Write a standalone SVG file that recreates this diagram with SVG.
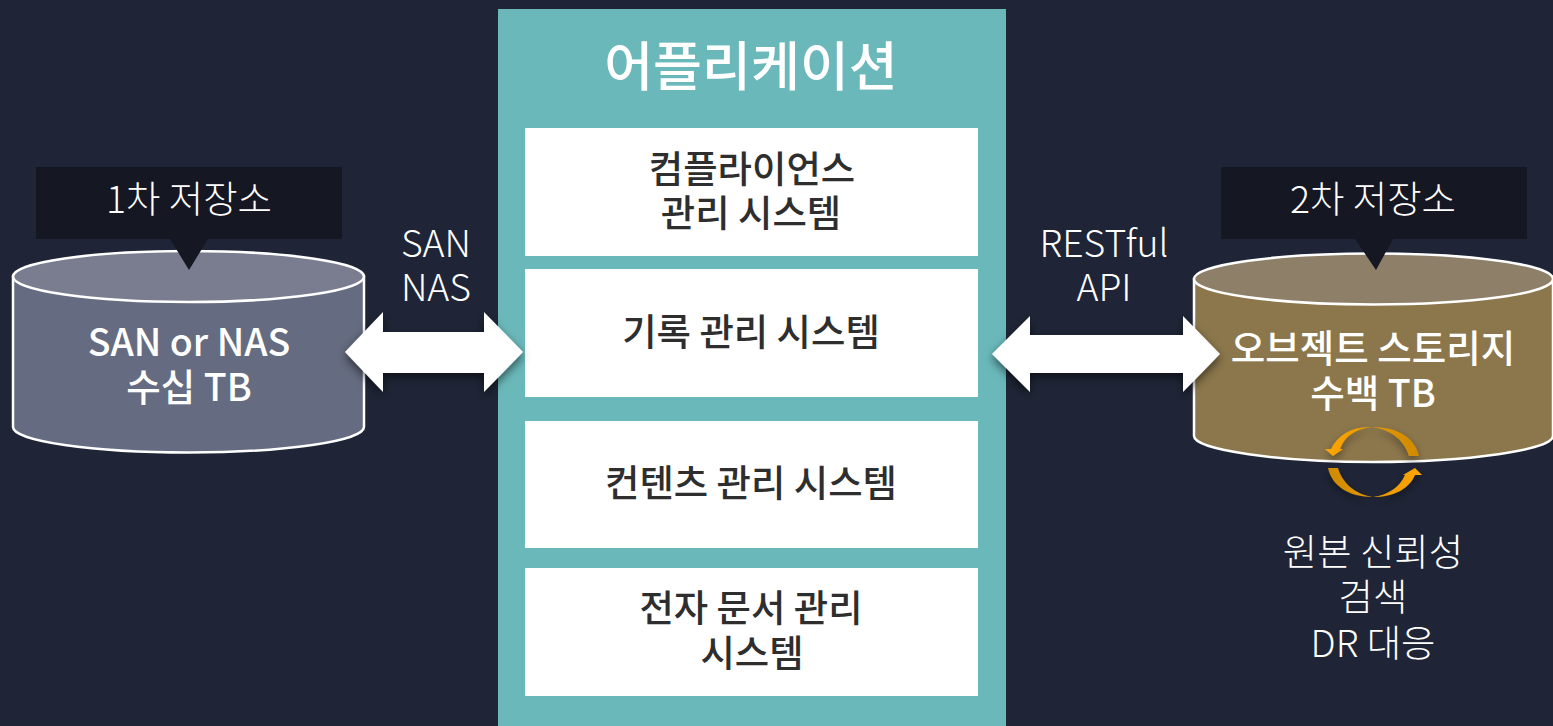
<svg xmlns="http://www.w3.org/2000/svg" width="1553" height="726" viewBox="0 0 1553 726">
<style>
text{font-family:"Noto Sans CJK KR","Noto Sans",sans-serif;text-anchor:middle}
.box{fill:#fff}
.bl{font-size:37.400px;font-weight:500;fill:#2E2E2E}
.lt{font-size:37.400px;font-weight:300;fill:#fff}
.cy{font-size:37.500px;font-weight:500;fill:#fff}
.cyl{stroke:#fff;stroke-width:2.500}
.call{fill:#151722}
.dbl{fill:#fff;filter:url(#sh)}
.cyc{filter:url(#sh2)}
</style>
<defs>
<filter id="sh" x="-10%" y="-30%" width="120%" height="160%"><feDropShadow dx="0" dy="4" stdDeviation="5" flood-color="#000" flood-opacity=".55"/></filter>
<filter id="sh2" x="-30%" y="-30%" width="160%" height="160%"><feDropShadow dx="0" dy="4" stdDeviation="4" flood-color="#000" flood-opacity=".4"/></filter>
<linearGradient id="g1" x1="0" x2="1" y1="0" y2="0"><stop offset="0" stop-color="#FFA600"/><stop offset="1" stop-color="#CF8A00"/></linearGradient>
<linearGradient id="g2" x1="0" x2="1" y1="0" y2="0"><stop offset="0" stop-color="#CF8A00"/><stop offset="1" stop-color="#FFA600"/></linearGradient>
</defs>
<rect width="1553" height="726" fill="#1F2536"/>
<g id="app">
<rect x="498" y="9" width="508" height="717" fill="#6AB8BA"/>
<text x="751" y="86" font-size="53.200" font-weight="500" fill="#fff">어플리케이션</text>
</g>
<g id="compliance"><rect class="box" x="525" y="128" width="453" height="128"/>
<text class="bl" x="752" y="182.500">컴플라이언스</text><text class="bl" x="751" y="227">관리 시스템</text></g>
<g id="records"><rect class="box" x="525" y="269" width="453" height="128"/>
<text class="bl" x="751" y="346">기록 관리 시스템</text></g>
<g id="contents"><rect class="box" x="525" y="421" width="453" height="127"/>
<text class="bl" x="751" y="497">컨텐츠 관리 시스템</text></g>
<g id="documents"><rect class="box" x="525" y="568" width="453" height="128"/>
<text class="bl" x="751" y="622">전자 문서 관리</text><text class="bl" x="752" y="667">시스템</text></g>
<g id="primary">
<path class="cyl" d="M13 276.500V427C13 441 92 452.500 188.500 452.500S364 441 364 427V276.500Z" fill="#656B80"/>
<ellipse class="cyl" cx="188.500" cy="276.500" rx="175.500" ry="25.500" fill="#7A7D8F"/>
<text class="cy" x="189" y="355.500">SAN or NAS</text><text class="cy" x="189" y="400.500">수십 TB</text>
</g>
<g id="primary-label">
<path class="call" d="M36 167H342V239H208L189 270L170 239H36Z"/>
<text class="lt" x="189" y="213">1차 저장소</text>
</g>
<g id="secondary">
<path class="cyl" d="M1194 279V436C1194 450 1280 462 1373.500 462S1553 450 1553 436V279Z" fill="#8C774C"/>
<ellipse class="cyl" cx="1373.500" cy="279" rx="179.500" ry="25.500" fill="#8E7F69"/>
<text class="cy" x="1373" y="361.500">오브젝트 스토리지</text><text class="cy" x="1373" y="406.500">수백 TB</text>
</g>
<g id="secondary-label">
<path class="call" d="M1221 167H1527V239H1393L1376 270L1355 239H1221Z"/>
<text class="lt" x="1373" y="213">2차 저장소</text>
</g>
<g id="connectors">
<path class="dbl" d="M345 352L383 312V332H484V312L523 352L484 392V373H383V392Z"/>
<path class="dbl" d="M992 354L1030 316V335H1183V316L1220 354L1183 392V373H1030V392Z"/>
<text class="lt" x="436" y="256.500">SAN</text><text class="lt" x="436" y="300.500">NAS</text>
<text class="lt" x="1104" y="256.500">RESTful</text><text class="lt" x="1104" y="300.500">API</text>
</g>
<g id="cycle" class="cyc">
<path fill="url(#g1)" d="M1419 456H1409C1405 442 1393 430 1372 427C1355 429 1345 436 1340 449H1343L1333 456L1325 449H1331C1338 435 1352 426 1372 427C1398 427 1415 438 1419 456Z"/>
<path fill="url(#g2)" d="M1328 468H1338C1342 482 1354 494 1373 497C1388 495 1400 487 1405 475H1403L1415 468L1422 475H1415C1409 489 1394 497 1373 497C1349 497 1332 486 1328 468Z"/>
</g>
<g id="notes">
<text class="lt" x="1373" y="566">원본 신뢰성</text><text class="lt" x="1373" y="611">검색</text><text class="lt" x="1373" y="657">DR 대응</text>
</g>
</svg>
